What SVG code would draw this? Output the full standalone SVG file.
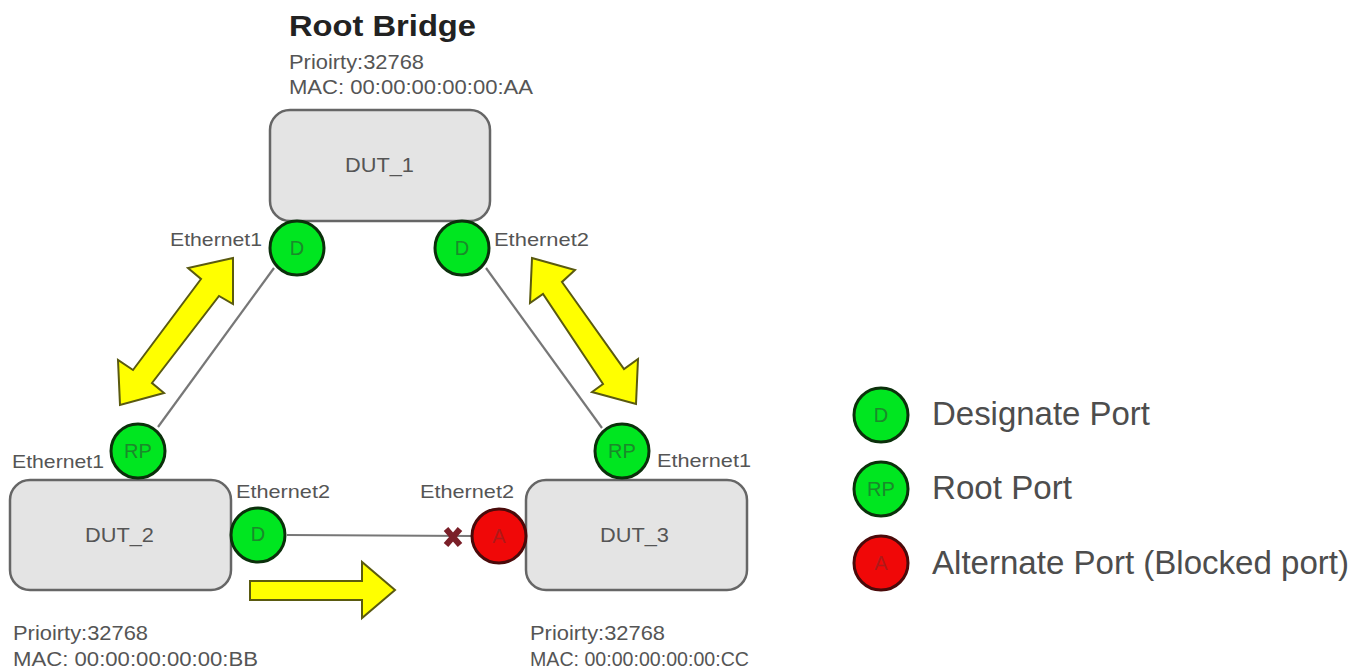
<svg xmlns="http://www.w3.org/2000/svg" width="1364" height="671" viewBox="0 0 1364 671">
<style>
text{font-family:"Liberation Sans",Arial,sans-serif;fill:#555}
.n{fill:#e4e4e4;stroke:#666;stroke-width:2.5}
.p{stroke:#0b300b;stroke-width:3}
.g{fill:#00e620}
.r{fill:#f00808;stroke:#4a0a0a}
.pl{font-size:20px;text-anchor:middle;fill:#1a8a2a}
.l{font-size:19px}
.d{font-size:21px}
.t{font-size:20.5px}
.c{stroke:#777;stroke-width:2.2;fill:none}
.a{fill:#ffff00;stroke:#5a5a10;stroke-width:2}
.lg{font-size:33px;fill:#4d4d4d}
.x{stroke:#7a1f28;stroke-width:6;fill:none}
</style>
<rect width="1364" height="671" fill="#fff"/>
<g id="connectors">
<line class="c" x1="274" y1="268" x2="158" y2="427"/>
<line class="c" x1="486" y1="268" x2="602" y2="428"/>
<line class="c" x1="287" y1="535" x2="472" y2="536"/>
</g>
<g id="flow-arrows">
<polygon class="a" points="233,258 188,268 201,279 133,370 118,360 120,405 164,393 152,383 219,296 233,304"/>
<polygon class="a" points="532,258 575,270 562,282 624,369 638,359 636,404 592,392 603,384 543,294 530,303"/>
<polygon class="a" points="250,581 362,581 362,562 395,590 362,618 362,600 250,600"/>
</g>
<g id="block-mark"><path class="x" d="M446,529 L460,545 M460,529 L446,545"/></g>
<g id="title"><text x="289" y="36" font-size="30" font-weight="bold" style="fill:#222" textLength="187" lengthAdjust="spacingAndGlyphs">Root Bridge</text>
<text class="t" x="289" y="69" textLength="135" lengthAdjust="spacingAndGlyphs">Prioirty:32768</text><text class="t" x="289" y="94" textLength="244" lengthAdjust="spacingAndGlyphs">MAC: 00:00:00:00:00:AA</text></g>
<g id="DUT_1"><rect class="n" x="270" y="110" width="220" height="111" rx="20"/><text class="d" x="345" y="172" textLength="69" lengthAdjust="spacingAndGlyphs">DUT_1</text></g>
<g id="DUT_2"><rect class="n" x="10" y="480" width="221" height="110" rx="20"/><text class="d" x="85" y="542" textLength="69" lengthAdjust="spacingAndGlyphs">DUT_2</text></g>
<g id="DUT_3"><rect class="n" x="526" y="480" width="221" height="110" rx="20"/><text class="d" x="600" y="542" textLength="69" lengthAdjust="spacingAndGlyphs">DUT_3</text></g>
<g id="port-d1"><circle class="p g" cx="297" cy="248" r="27"/><text class="pl" x="297" y="255">D</text><text class="l" x="170" y="246" textLength="92" lengthAdjust="spacingAndGlyphs">Ethernet1</text></g>
<g id="port-d2"><circle class="p g" cx="462" cy="248" r="27"/><text class="pl" x="462" y="255">D</text><text class="l" x="494" y="246" textLength="95" lengthAdjust="spacingAndGlyphs">Ethernet2</text></g>
<g id="port-rp2"><circle class="p g" cx="138" cy="451" r="27"/><text class="pl" x="138" y="458">RP</text><text class="l" x="12" y="468" textLength="92" lengthAdjust="spacingAndGlyphs">Ethernet1</text></g>
<g id="port-rp3"><circle class="p g" cx="622" cy="451" r="27"/><text class="pl" x="622" y="458">RP</text><text class="l" x="657" y="467" textLength="94" lengthAdjust="spacingAndGlyphs">Ethernet1</text></g>
<g id="port-d3"><circle class="p g" cx="258" cy="535" r="27"/><text class="pl" x="258" y="541">D</text><text class="l" x="236" y="498" textLength="94" lengthAdjust="spacingAndGlyphs">Ethernet2</text></g>
<g id="port-a"><circle class="p r" cx="499" cy="536" r="27"/><text class="pl" x="499" y="543" style="fill:#b01818">A</text><text class="l" x="420" y="498" textLength="94" lengthAdjust="spacingAndGlyphs">Ethernet2</text></g>
<g id="info-2"><text class="t" x="13" y="640" textLength="135" lengthAdjust="spacingAndGlyphs">Prioirty:32768</text><text class="t" x="13" y="666" textLength="245" lengthAdjust="spacingAndGlyphs">MAC: 00:00:00:00:00:BB</text></g>
<g id="info-3"><text class="t" x="530" y="640" textLength="135" lengthAdjust="spacingAndGlyphs">Prioirty:32768</text><text class="t" x="530" y="666" textLength="219" lengthAdjust="spacingAndGlyphs">MAC: 00:00:00:00:00:CC</text></g>
<g id="legend-d"><circle class="p g" cx="881" cy="415" r="27"/><text class="pl" x="881" y="422">D</text><text class="lg" x="932" y="425" textLength="218" lengthAdjust="spacingAndGlyphs">Designate Port</text></g>
<g id="legend-rp"><circle class="p g" cx="881" cy="489" r="27"/><text class="pl" x="881" y="496">RP</text><text class="lg" x="932" y="499" textLength="140" lengthAdjust="spacingAndGlyphs">Root Port</text></g>
<g id="legend-a"><circle class="p r" cx="881" cy="563" r="27"/><text class="pl" x="881" y="570" style="fill:#b01818">A</text><text class="lg" x="932" y="574" textLength="417" lengthAdjust="spacingAndGlyphs">Alternate Port (Blocked port)</text></g>
</svg>
